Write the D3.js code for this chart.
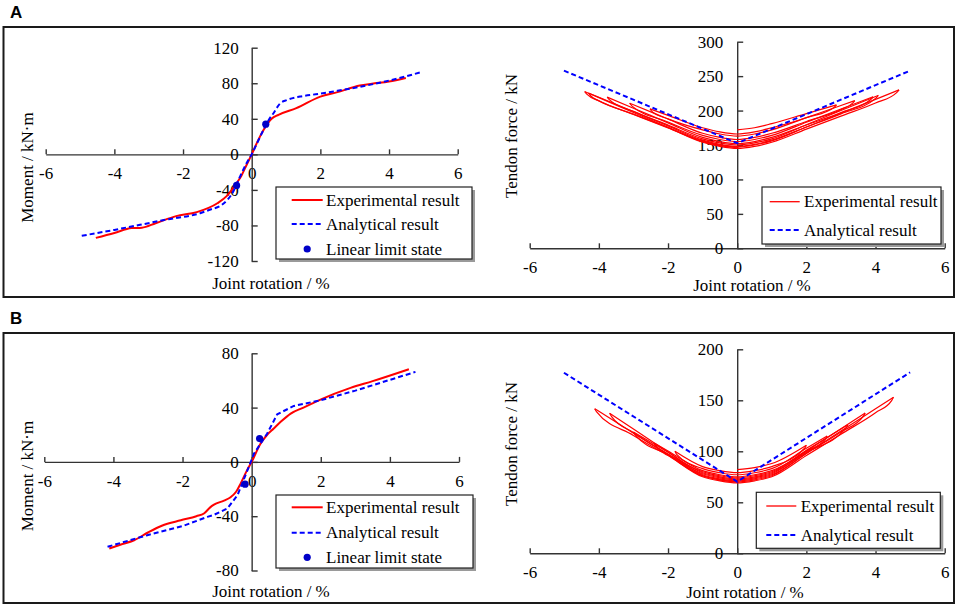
<!DOCTYPE html>
<html><head><meta charset="utf-8">
<script src="https://cdn.jsdelivr.net/npm/d3@7"></script>
<style>
body{margin:0;background:#fff}
text{font-family:"Liberation Serif","Times New Roman",serif;fill:#000}
</style>
</head><body>
<svg id="c" width="957" height="607"></svg>
<script>
// ---------- DATA ----------
const rotationTicks = [-6,-4,-2,0,2,4,6];
const momentTicksA = [-120,-80,-40,0,40,80,120];
const momentTicksB = [-80,-40,0,40,80];
const forceTicksA = [0,50,100,150,200,250,300];
const forceTicksB = [0,50,100,150,200];

// Panel A - moment vs rotation
const momentExpA = [[-4.54,-94],[-4,-88.5],[-3.5,-83],[-3.2,-82.5],[-2.8,-77.5],[-2.2,-69.5],[-1.6,-65],[-1.0,-55],[-0.73,-47],[-0.45,-33],[-0.3,-24],[-0.15,-12],[0,0],[0.19,16],[0.34,27],[0.58,40],[0.78,44.5],[1.3,52],[2,65],[2.5,70],[3.15,77.5],[3.5,79.5],[4,82],[4.49,86]];
const momentAnaA = [[-4.95,-91.6],[-4,-85],[-3.25,-79.3],[-2.5,-73.5],[-1.5,-66.2],[-1.2,-62],[-0.87,-56.9],[-0.54,-42],[-0.34,-25],[-0.15,-10],[0,0],[0.15,12],[0.34,27.3],[0.5,39],[0.63,46],[0.82,57],[1.02,61],[1.41,65],[1.94,68],[2.5,71.5],[3.15,76],[4,83],[4.95,92.6]];
const limitA = [[0.41,34],[-0.44,-35]];

// Panel A - tendon force vs rotation (successive half-cycle sweeps)
const tendonExpA = [
 [[0,172],[0.5,175],[1,181],[2,195.6],[2.87,208.3]],
 [[2.87,208.3],[2.8,204.5],[2,189.6],[1,175],[0.5,169],[0,166],[-0.5,169],[-1,175],[-2,193],[-2.52,202.5]],
 [[-2.52,202.5],[-2.46,198.5],[-2,188],[-1,172],[-0.5,166],[0,163],[0.5,166],[1,172],[2,189.7],[3,207.4],[3.4,214.5]],
 [[3.4,214.5],[3.33,210.5],[3,201.4],[2,184.2],[1,167],[0.5,161],[0,158],[-0.5,161],[-1,167],[-2,187.7],[-3,208.4],[-3.11,210.7]],
 [[-3.11,210.7],[-3.04,206.5],[-2,183.4],[-1,164],[-0.5,158],[0,155],[0.5,158],[1,164],[2,183.1],[3,202.2],[3.93,220]],
 [[3.93,220],[3.86,216],[3,197],[2,179],[1,161],[0.5,155],[0,152],[-0.5,155],[-1,161],[-2,182.2],[-3,203.4],[-3.76,219.5]],
 [[-3.76,219.5],[-3.69,215.5],[-3,198.8],[-2,178.9],[-1,159],[-0.5,153],[0,150],[0.5,153],[1,159],[2,179.5],[3,200],[4.08,222]],
 [[4.08,222],[4.01,218],[3,195.2],[2,176.1],[1,157],[0.5,151],[0,148],[-0.5,151],[-1,157],[-2,177.8],[-3,198.6],[-4,219.3],[-4.3,225.5]],
 [[-4.3,225.5],[-4.24,221.5],[-4,214.2],[-3,194.8],[-2,175.4],[-1,156],[-0.5,150],[0,147],[0.5,150],[1,156],[2,176.1],[3,196.2],[4,216.3],[4.68,230]],
 [[4.68,230],[4.61,226],[4,211],[3,192],[2,173],[1,154],[0.5,148],[0,145],[-0.5,148],[-1,154],[-2,175.6],[-3,197.2],[-4,218.8],[-4.41,227.6]],
 [[-4.41,227.6],[-4.34,223.5],[-4,214.1],[-3,194.4],[-2,174.7],[-1,155],[-0.5,149],[0,146]]
];
const tendonAnaA = [[-5.01,258],[0,152.6],[4.94,256.7]];

// Panel B - moment vs rotation
const momentExpB = [[-4.12,-63.8],[-3.8,-61],[-3.4,-57.7],[-3.0,-52],[-2.6,-47],[-2.05,-43],[-1.6,-40],[-1.38,-38],[-1.2,-33.5],[-1.09,-31.5],[-0.8,-28.5],[-0.61,-26],[-0.45,-22],[-0.32,-16],[-0.15,-7],[0,0],[0.26,13.5],[0.45,20],[0.64,24.6],[0.84,29.5],[1.13,35.6],[1.5,40],[1.99,45.9],[2.86,54.5],[3.5,59.5],[4.55,68.3]];
const momentAnaB = [[-4.17,-62.5],[-3.02,-54],[-2,-47.3],[-1.28,-40.5],[-1.09,-39],[-0.7,-34.3],[-0.41,-24.5],[-0.12,-6.1],[0.07,6.2],[0.45,20.9],[0.74,35.1],[1.22,41.2],[1.99,45.4],[3,52.5],[4.74,66.3]];
const limitB = [[0.23,17.2],[-0.19,-16.4]];

// Panel B - tendon force vs rotation
const tendonExpB = [
 [[0,82],[0.5,84],[1,88],[2,106]],
 [[2,106],[1.95,103],[1,85],[0.5,81],[0,79],[-0.5,81],[-1,85],[-1.8,100]],
 [[-1.8,100],[-1.75,97],[-1,83],[-0.5,79],[0,77],[0.5,79],[1,83],[2,103],[2.6,115]],
 [[2.6,115],[2.55,112],[2,100],[1,81],[0.5,77],[0,75],[-0.5,77],[-1,81],[-2,100.3],[-2.4,108]],
 [[-2.4,108],[-2.35,105],[-2,97.3],[-1,80],[-0.5,76],[0,74],[0.5,76],[1,80],[2,100.9],[3,121.8],[3.2,126]],
 [[3.2,126],[3.15,123],[2,98.8],[1,79],[0.5,75],[0,73],[-0.5,75],[-1,79],[-2,99],[-3,119]],
 [[-3,119],[-2.95,116],[-2,96.7],[-1,78],[-0.5,74],[0,72],[0.5,74],[1,78],[2,100],[3,122],[3.7,137.5]],
 [[3.7,137.5],[3.65,134.5],[3,119],[2,98],[1,77],[0.5,73],[0,71],[-0.5,73],[-1,77],[-2,99.4],[-3,121.8],[-3.69,137.3]],
 [[-3.69,137.3],[-3.63,134],[-3,118.4],[-2,97.2],[-1,76],[-0.5,72],[0,70],[0.5,72],[1,76],[2,97.9],[3,119.8],[4,141.6],[4.52,153]],
 [[4.52,153],[4.47,150],[4,137.8],[3,116.8],[2,95.9],[1,75],[0.5,71],[0,69],[-0.5,71],[-1,75],[-2,96.4],[-3,117.8],[-4,139.2],[-4.12,141.8]],
 [[-4.12,141.8],[-4.07,139],[-3,115.6],[-2,95.8],[-1,76],[-0.5,72],[0,70]]
];
const tendonAnaB = [[-5.01,177],[0,70.2],[5.0,177.4]];

// ---------- DRAWING ----------
const SERIF = "'Liberation Serif','Times New Roman',serif";
const svg = d3.select("#c");
const RED = "#ff0000", BLUE = "#0000ff", AX = "#333";

function frame(y0, y1, label){
  svg.append("rect").attr("x",3.5).attr("y",y0).attr("width",950.5).attr("height",y1-y0)
    .attr("fill","none").attr("stroke","#1a1a1a").attr("stroke-width",2);
  svg.append("text").attr("x",10).attr("y",y0-9).text(label)
    .attr("font-family","'Liberation Sans',Arial,sans-serif").style("font-family","'Liberation Sans',Arial,sans-serif")
    .style("font-weight","bold").style("font-size","17px");
}
frame(27, 297, "A");
frame(333, 603, "B");

function axes(x, y, yTicks, yPadding, xTitle, yTitle){
  const g = svg.append("g");
  const gx = g.append("g").attr("transform",`translate(0,${y(0)})`)
    .call(d3.axisBottom(x).tickValues(rotationTicks).tickSizeInner(-5).tickSizeOuter(0).tickPadding(13).tickFormat(d3.format("d")));
  const gy = g.append("g").attr("transform",`translate(${x(0)},0)`)
    .call(d3.axisLeft(y).tickValues(yTicks).tickSizeInner(-6).tickSizeOuter(0).tickPadding(yPadding).tickFormat(d3.format("d")));
  [gx,gy].forEach(a=>{
    a.attr("font-family",SERIF).attr("font-size",17);
    a.selectAll("path,line").attr("stroke",AX).attr("stroke-width",1.4);
    a.selectAll("text").attr("font-family",SERIF).style("font-family",SERIF).style("font-size","17px").attr("fill","#000");
  });
  gx.selectAll("text").text(d=>d<0?"-"+Math.abs(d):d);
  gy.selectAll("text").text(d=>d<0?"-"+Math.abs(d):d);
  svg.append("text").attr("x",xTitle[0]).attr("y",xTitle[1]).attr("text-anchor","middle")
    .attr("dominant-baseline","central").style("font-size","17px").text("Joint rotation / %");
  svg.append("text").attr("transform",`translate(${yTitle[0]},${yTitle[1]}) rotate(-90)`).attr("text-anchor","middle")
    .attr("dominant-baseline","central").style("font-size","17px").text(yTitle[2]);
}

function legend(box, entries){
  const [x0,y0,x1,y1,lx0,lx1,tx] = box;
  svg.append("rect").attr("x",x0+3).attr("y",y0+3).attr("width",x1-x0).attr("height",y1-y0).attr("fill","#9a9a9a");
  svg.append("rect").attr("x",x0).attr("y",y0).attr("width",x1-x0).attr("height",y1-y0).attr("fill","#fff").attr("stroke","#222").attr("stroke-width",1.2);
  entries.forEach(e=>{
    if(e.type==="dot"){
      svg.append("circle").attr("cx",(lx0+lx1)/2).attr("cy",e.y).attr("r",3.6).attr("fill","#0000c8");
    } else {
      svg.append("line").attr("x1",lx0).attr("x2",lx1).attr("y1",e.y).attr("y2",e.y)
        .attr("stroke",e.color).attr("stroke-width",e.w).attr("stroke-dasharray",e.dash||null);
    }
    svg.append("text").attr("x",tx).attr("y",e.y).attr("dominant-baseline","central").style("font-size","17px").text(e.label);
  });
}

function momentPanel(xr, yr, ydom, yTicks, exp, ana, lim, xTitle, yTitle, lbox, ly, anaCurve){
  const x = d3.scaleLinear().domain([-6,6]).range(xr);
  const y = d3.scaleLinear().domain(ydom).range(yr);
  axes(x, y, yTicks, 13, xTitle, yTitle);
  const line = d3.line().x(d=>x(d[0])).y(d=>y(d[1])).curve(d3.curveMonotoneX);
  const lineA = d3.line().x(d=>x(d[0])).y(d=>y(d[1])).curve(anaCurve);
  svg.append("path").attr("d",line(exp)).attr("fill","none").attr("stroke",RED).attr("stroke-width",2);
  svg.append("path").attr("d",lineA(ana)).attr("fill","none").attr("stroke",BLUE).attr("stroke-width",2).attr("stroke-dasharray","5,3");
  svg.selectAll(null).data(lim).enter().append("circle").attr("cx",d=>x(d[0])).attr("cy",d=>y(d[1])).attr("r",3.6).attr("fill","#0000c8");
  legend(lbox,[
    {label:"Experimental result",color:RED,w:2,y:ly[0]},
    {label:"Analytical result",color:BLUE,w:2,dash:"5,3",y:ly[1]},
    {label:"Linear limit state",type:"dot",y:ly[2]}
  ]);
}

function tendonPanel(xr, yr, ydom, yTicks, sweeps, ana, xTitle, yTitle, lbox, ly){
  const x = d3.scaleLinear().domain([-6,6]).range(xr);
  const y = d3.scaleLinear().domain(ydom).range(yr);
  axes(x, y, yTicks, 14, xTitle, yTitle);
  const line = d3.line().x(d=>x(d[0])).y(d=>y(d[1])).curve(d3.curveMonotoneX);
  sweeps.forEach(s=>{
    const pts = s.slice().sort((a,b)=>a[0]-b[0]);
    svg.append("path").attr("d",line(pts)).attr("fill","none").attr("stroke",RED).attr("stroke-width",1.2);
  });
  const lineA = d3.line().x(d=>x(d[0])).y(d=>y(d[1]));
  svg.append("path").attr("d",lineA(ana)).attr("fill","none").attr("stroke",BLUE).attr("stroke-width",2).attr("stroke-dasharray","5,3");
  legend(lbox,[
    {label:"Experimental result",color:RED,w:1.3,y:ly[0]},
    {label:"Analytical result",color:BLUE,w:2,dash:"5,3",y:ly[1]}
  ]);
}

momentPanel([45.7,457.7],[261,47.7],[-120,120],momentTicksA,momentExpA,momentAnaA,limitA,
  [271,283],[27,167.5,"Moment / kN·m"],[276,187,472,259,291.7,322.7,326],[200,224,249],d3.curveMonotoneX);
tendonPanel([529.7,944.7],[248.3,41.7],[0,300],forceTicksA,tendonExpA,tendonAnaA,
  [752,285],[511,136,"Tendon force / kN"],[762,187,941,244,769.7,799.7,804],[201.7,230]);
momentPanel([44.3,459],[570.5,353.3],[-80,80],momentTicksB,momentExpB,momentAnaB,limitB,
  [271,591],[27,476,"Moment / kN·m"],[276,495,473,568,291.7,322.7,326],[507.3,532.7,557.3],d3.curveLinear);
tendonPanel([529.7,944.7],[553.3,349.3],[0,200],forceTicksB,tendonExpB,tendonAnaB,
  [745,592],[511,444,"Tendon force / kN"],[756.3,492.3,940.3,548.3,766.3,796.3,800.7],[506,535]);
</script>
</body></html>
